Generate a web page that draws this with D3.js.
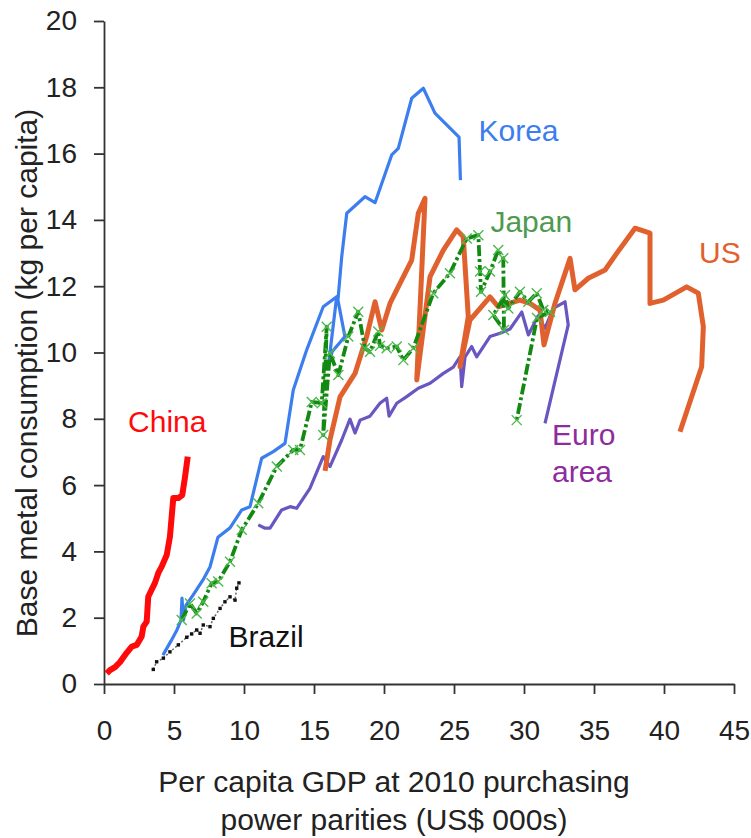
<!DOCTYPE html>
<html>
<head>
<meta charset="utf-8">
<script src="https://cdn.jsdelivr.net/npm/d3@7"></script>
<style>
  body { margin: 0; background: #fff; }
  svg text { font-family: "Liberation Sans", Arial, sans-serif; }
</style>
</head>
<body>
<div id="chart"></div>
<script>
// per capita GDP (US$ 000s), base metal consumption (kg per capita)
const china = [[0.19,0.32],[0.43,0.42],[0.79,0.51],[1.14,0.66],[1.62,0.94],[1.98,1.13],[2.34,1.18],[2.69,1.43],[2.81,1.73],[3.05,1.88],[3.16,2.63],[3.64,3.05],[3.88,3.35],[4.12,3.54],[4.48,3.89],[4.71,4.44],[4.95,5.61],[5.31,5.61],[5.59,5.70],[5.79,6.25],[5.98,6.86]];

const brazil = [[3.52,0.44],[3.76,0.67],[4.24,0.78],[4.71,0.97],[5.31,1.18],[5.91,1.41],[6.26,1.51],[6.62,1.63],[6.86,1.53],[7.09,1.78],[7.57,1.73],[7.81,1.98],[8.29,2.28],[8.64,2.48],[9.0,2.63],[9.36,2.53],[9.48,2.89],[9.64,3.05]];

const korea = [[4.21,0.87],[4.79,1.30],[5.21,1.63],[5.50,1.93],[5.57,2.59],[5.68,1.93],[5.86,2.38],[6.36,2.68],[7.07,3.14],[7.57,3.53],[8.14,4.43],[9.0,4.71],[9.84,5.25],[10.43,5.35],[11.26,6.81],[12.09,7.01],[12.93,7.26],[13.52,8.87],[14.48,10.08],[15.66,11.38],[16.62,11.68],[16.02,9.57],[16.29,10.02],[17.21,10.48],[16.71,11.58],[16.98,12.89],[17.34,14.20],[18.64,14.70],[19.36,14.52],[20.55,15.96],[21.02,16.16],[21.98,17.67],[22.81,17.97],[23.64,17.22],[25.07,16.62],[25.36,16.50],[25.46,15.20]];

const japan = [[5.55,1.93],[6.14,2.43],[6.62,2.13],[7.09,2.48],[7.69,3.04],[8.16,3.09],[9.0,3.69],[9.84,4.65],[11.02,5.45],[12.34,6.56],[13.52,7.06],[14.0,7.06],[14.84,8.51],[15.55,8.47],[15.91,10.78],[15.66,7.51],[16.14,9.98],[16.74,9.32],[17.45,10.48],[18.16,11.23],[18.64,10.13],[19.0,10.02],[19.59,10.63],[19.71,10.20],[20.19,10.13],[20.91,10.18],[21.38,9.77],[22.09,10.13],[23.52,11.79],[24.71,12.39],[25.91,13.44],[26.74,13.54],[26.86,12.44],[26.93,11.83],[27.57,12.44],[28.16,13.09],[28.52,12.84],[28.57,10.68],[27.81,11.13],[28.64,11.73],[28.88,11.33],[29.71,11.83],[30.31,11.53],[30.91,11.79],[31.38,11.28],[31.86,11.23],[30.93,11.04],[29.48,7.96]];

const us = [[15.79,6.43],[16.14,7.36],[16.86,8.66],[17.93,9.37],[18.76,10.48],[19.36,11.53],[19.84,10.68],[20.43,11.48],[20.91,11.89],[21.98,12.79],[22.45,14.20],[22.93,14.65],[22.34,9.17],[23.29,12.29],[24.24,13.09],[25.19,13.70],[25.66,13.49],[26.02,11.08],[25.43,9.57],[26.14,10.98],[27.57,11.68],[28.16,11.38],[29.0,11.49],[29.71,11.58],[30.43,11.48],[31.14,11.28],[31.43,10.23],[32.21,11.48],[33.29,12.84],[33.64,11.89],[34.59,12.24],[35.79,12.49],[36.62,12.99],[37.93,13.75],[39.0,13.60],[39.0,11.48],[39.95,11.58],[41.62,11.98],[42.45,11.79],[42.81,10.78],[42.69,9.57],[41.14,7.61]];

const euro = [[11.02,4.80],[11.5,4.70],[11.86,4.70],[12.69,5.25],[13.29,5.35],[13.76,5.30],[14.71,5.90],[15.66,6.86],[16.14,6.56],[16.98,7.36],[17.57,7.99],[17.93,7.57],[18.29,7.96],[19.0,8.08],[19.71,8.47],[20.19,8.62],[20.36,8.08],[20.91,8.47],[21.62,8.67],[22.45,8.92],[23.29,9.07],[24.24,9.37],[24.95,9.56],[25.43,9.87],[25.55,8.97],[25.79,9.87],[26.26,10.18],[26.62,9.87],[27.57,10.48],[28.29,10.58],[29.0,10.71],[29.84,11.22],[30.31,10.53],[31.0,11.10],[31.5,10.73],[32.09,11.33],[32.93,11.53],[33.16,10.83],[31.5,7.86]];

const xTicks = [0, 5, 10, 15, 20, 25, 30, 35, 40, 45];
const yTicks = [0, 2, 4, 6, 8, 10, 12, 14, 16, 18, 20];

const width = 751, height = 838;

const svg = d3.select("#chart").append("svg")
  .attr("width", width)
  .attr("height", height);

const x = d3.scaleLinear().domain([0, 45]).range([104, 734]);
const y = d3.scaleLinear().domain([0, 20]).range([684, 21]);

const line = d3.line().x(d => x(d[0])).y(d => y(d[1]));

// axes
const yAxis = svg.append("g")
  .attr("transform", "translate(" + x(0) + ",0)")
  .call(d3.axisLeft(y).tickValues(yTicks).tickSize(10).tickSizeOuter(0).tickPadding(17));

const xAxis = svg.append("g")
  .attr("transform", "translate(0," + y(0) + ")")
  .call(d3.axisBottom(x).tickValues(xTicks).tickSize(10).tickSizeOuter(0).tickPadding(26));

[xAxis, yAxis].forEach(a => {
  a.select(".domain").attr("stroke", "#333").attr("stroke-width", 1.8);
  a.selectAll(".tick line").attr("stroke", "#333").attr("stroke-width", 1.8);
  a.selectAll(".tick text").attr("fill", "#222").style("font-size", "28px");
});

// series
function drawLine(data, color, w, dash) {
  svg.append("path").datum(data)
    .attr("fill", "none")
    .attr("stroke", color)
    .attr("stroke-width", w)
    .attr("stroke-linejoin", "round")
    .attr("stroke-dasharray", dash || null)
    .attr("d", line);
}

// Brazil: dotted with small square markers
drawLine(brazil, "#666", 1.5, "2,2");
svg.append("g").selectAll("rect").data(brazil).join("rect")
  .attr("x", d => x(d[0]) - 1.7)
  .attr("y", d => y(d[1]) - 1.7)
  .attr("width", 3.4).attr("height", 3.4)
  .attr("fill", "#111");

drawLine(china, "#ff0a0a", 6);
drawLine(korea, "#3c7ef0", 3.2);
drawLine(euro, "#6a56c0", 3.2);
drawLine(us, "#e0612d", 5);
drawLine(japan, "#128a12", 3.8, "11,3,3,3");

svg.append("g").selectAll("path").data(japan).join("path")
  .attr("transform", d => "translate(" + x(d[0]) + "," + y(d[1]) + ")")
  .attr("d", "M-5,-5L5,5M-5,5L5,-5")
  .attr("stroke", "#4db84d")
  .attr("stroke-width", 1.4)
  .attr("fill", "none");

// series labels
const labelNames = ["Korea", "Japan", "US", "China", "Brazil", "Euro", "area"];
const labelColors = ["#3c7ef0", "#4e9a4e", "#e0612d", "#ff0a0a", "#111", "#8e2c9e", "#8e2c9e"];
const labelAt = [[26.75, 16.38], [27.6, 13.65], [42.5, 12.7], [1.72, 7.6], [8.9, 1.11], [32.0, 7.2], [32.0, 6.08]];

svg.append("g").selectAll("text").data(labelNames).join("text")
  .attr("x", (d, i) => x(labelAt[i][0]))
  .attr("y", (d, i) => y(labelAt[i][1]))
  .attr("fill", (d, i) => labelColors[i])
  .style("font-size", "30px")
  .text(d => d);

// axis titles
svg.append("text")
  .attr("transform", "translate(37," + 373 + ") rotate(-90)")
  .attr("text-anchor", "middle")
  .attr("fill", "#222")
  .style("font-size", "30px")
  .text("Base metal consumption (kg per capita)");

svg.append("text")
  .attr("x", 394).attr("y", 792)
  .attr("text-anchor", "middle")
  .attr("fill", "#222")
  .style("font-size", "30px")
  .text("Per capita GDP at 2010 purchasing");

svg.append("text")
  .attr("x", 394).attr("y", 830)
  .attr("text-anchor", "middle")
  .attr("fill", "#222")
  .style("font-size", "30px")
  .text("power parities (US$ 000s)");
</script>
</body>
</html>
